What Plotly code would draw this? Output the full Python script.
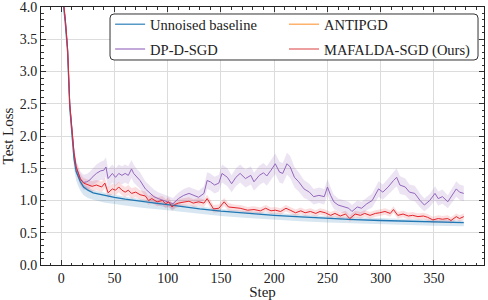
import plotly.graph_objects as go

# ---------------- data ----------------
# Unnoised baseline: (step, loss, lower, upper)
baseline = [
    (0, 4.60, 4.55, 4.65), (2, 4.05, 3.98, 4.10), (4, 3.72, 3.64, 3.76), (6, 3.30, 3.20, 3.34),
    (8, 2.45, 2.33, 2.49), (10, 2.02, 1.88, 2.06), (12, 1.65, 1.50, 1.70), (14, 1.45, 1.31, 1.50),
    (16, 1.36, 1.22, 1.40), (18, 1.29, 1.15, 1.33), (21, 1.21, 1.08, 1.25), (25, 1.16, 1.04, 1.20),
    (30, 1.12, 1.01, 1.16), (40, 1.08, 0.97, 1.12), (50, 1.05, 0.94, 1.09), (60, 1.02, 0.92, 1.06),
    (70, 0.995, 0.90, 1.03), (80, 0.975, 0.88, 1.01), (90, 0.955, 0.86, 0.99), (100, 0.935, 0.85, 0.97),
    (115, 0.90, 0.82, 0.94), (130, 0.87, 0.79, 0.91), (150, 0.835, 0.76, 0.87), (175, 0.80, 0.73, 0.835),
    (200, 0.77, 0.70, 0.805), (225, 0.745, 0.68, 0.78), (250, 0.72, 0.66, 0.755), (275, 0.705, 0.645, 0.74),
    (300, 0.69, 0.63, 0.725), (325, 0.678, 0.62, 0.712), (350, 0.667, 0.61, 0.70), (378, 0.658, 0.60, 0.69),
]

# DP-D-SGD: (step, loss, spread)
dpdsgd = [
    (0, 4.60, 0.04), (2, 4.10, 0.05), (4, 3.78, 0.06), (6, 3.35, 0.07), (8, 2.50, 0.08),
    (10, 2.08, 0.09), (12, 1.74, 0.10), (14, 1.52, 0.10), (16, 1.42, 0.11), (18, 1.34, 0.11),
    (21, 1.28, 0.12), (24, 1.29, 0.12), (27, 1.32, 0.13), (29, 1.36, 0.13), (33, 1.42, 0.14),
    (37, 1.46, 0.14), (40, 1.47, 0.15), (42, 1.52, 0.15), (44, 1.34, 0.15), (48, 1.42, 0.14),
    (51, 1.36, 0.14), (54, 1.42, 0.14), (57, 1.39, 0.14), (60, 1.42, 0.14), (63, 1.39, 0.14),
    (66, 1.49, 0.14), (68, 1.42, 0.14), (71, 1.36, 0.13), (74, 1.31, 0.13), (79, 1.18, 0.12),
    (82, 1.13, 0.12), (87, 1.06, 0.11), (91, 1.03, 0.10), (96, 1.00, 0.10), (101, 0.98, 0.09),
    (105, 0.95, 0.09), (110, 1.03, 0.09), (115, 1.08, 0.10), (120, 1.11, 0.10), (124, 1.08, 0.10),
    (129, 1.05, 0.10), (134, 1.11, 0.11), (137, 1.31, 0.13), (140, 1.29, 0.13), (144, 1.24, 0.13),
    (148, 1.27, 0.13), (151, 1.42, 0.14), (156, 1.36, 0.14), (160, 1.26, 0.13), (164, 1.36, 0.14),
    (168, 1.42, 0.14), (173, 1.34, 0.14), (178, 1.39, 0.14), (181, 1.29, 0.14), (186, 1.39, 0.15),
    (190, 1.43, 0.15), (193, 1.38, 0.15), (197, 1.47, 0.16), (201, 1.57, 0.16), (205, 1.44, 0.16),
    (208, 1.42, 0.16), (212, 1.57, 0.17), (215, 1.52, 0.17), (219, 1.36, 0.16), (223, 1.29, 0.15),
    (228, 1.18, 0.14), (233, 1.13, 0.13), (237, 1.06, 0.12), (242, 1.08, 0.12), (247, 1.06, 0.12),
    (250, 1.21, 0.12), (253, 1.08, 0.12), (256, 0.98, 0.11), (260, 0.93, 0.10), (265, 0.90, 0.10),
    (270, 0.88, 0.10), (273, 0.83, 0.10), (278, 0.90, 0.10), (282, 0.88, 0.10), (287, 0.95, 0.10),
    (292, 1.00, 0.11), (298, 1.18, 0.12), (302, 1.13, 0.12), (307, 1.21, 0.13), (312, 1.31, 0.14),
    (315, 1.36, 0.14), (318, 1.24, 0.14), (323, 1.21, 0.13), (327, 1.13, 0.12), (332, 1.11, 0.12),
    (337, 1.00, 0.11), (341, 0.93, 0.10), (346, 1.00, 0.10), (351, 1.11, 0.11), (354, 1.03, 0.11),
    (358, 1.06, 0.11), (363, 0.98, 0.10), (366, 1.06, 0.11), (371, 1.18, 0.12), (374, 1.13, 0.12),
    (378, 1.11, 0.12),
]

# MAFALDA-SGD (Ours): (step, loss, spread)
mafalda = [
    (0, 4.60, 0.03), (2, 4.10, 0.04), (4, 3.78, 0.05), (6, 3.35, 0.06), (8, 2.50, 0.07),
    (10, 2.08, 0.07), (12, 1.74, 0.08), (14, 1.52, 0.08), (16, 1.42, 0.08), (18, 1.33, 0.08),
    (21, 1.27, 0.08), (24, 1.25, 0.08), (29, 1.22, 0.08), (33, 1.24, 0.08), (38, 1.21, 0.08),
    (41, 1.27, 0.08), (44, 1.12, 0.08), (48, 1.18, 0.08), (51, 1.16, 0.08), (54, 1.21, 0.08),
    (57, 1.16, 0.08), (60, 1.13, 0.08), (63, 1.16, 0.08), (66, 1.11, 0.08), (70, 1.13, 0.08),
    (74, 1.09, 0.07), (79, 1.07, 0.07), (82, 1.00, 0.07), (85, 1.03, 0.07), (90, 0.98, 0.07),
    (95, 1.00, 0.07), (98, 0.95, 0.07), (101, 0.98, 0.07), (104, 0.90, 0.06), (107, 0.94, 0.06),
    (110, 0.96, 0.06), (115, 0.98, 0.06), (120, 0.99, 0.06), (124, 0.96, 0.06), (129, 0.98, 0.06),
    (134, 0.96, 0.06), (137, 1.03, 0.06), (140, 0.95, 0.06), (143, 0.87, 0.06), (148, 0.88, 0.06),
    (153, 0.98, 0.06), (157, 0.90, 0.06), (162, 0.89, 0.05), (168, 0.88, 0.05), (175, 0.85, 0.05),
    (181, 0.86, 0.05), (187, 0.84, 0.05), (192, 0.88, 0.05), (197, 0.84, 0.05), (201, 0.85, 0.05),
    (206, 0.83, 0.05), (211, 0.88, 0.05), (215, 0.85, 0.05), (220, 0.81, 0.05), (225, 0.84, 0.05),
    (229, 0.81, 0.05), (234, 0.83, 0.05), (239, 0.80, 0.05), (243, 0.83, 0.05), (248, 0.81, 0.05),
    (253, 0.77, 0.05), (257, 0.80, 0.05), (262, 0.76, 0.05), (267, 0.79, 0.05), (271, 0.72, 0.05),
    (276, 0.79, 0.05), (281, 0.77, 0.05), (285, 0.80, 0.05), (290, 0.77, 0.05), (295, 0.80, 0.05),
    (299, 0.81, 0.05), (304, 0.83, 0.05), (309, 0.80, 0.05), (312, 0.86, 0.05), (316, 0.77, 0.05),
    (321, 0.79, 0.05), (326, 0.76, 0.05), (330, 0.77, 0.05), (335, 0.75, 0.05), (340, 0.76, 0.05),
    (344, 0.74, 0.05), (349, 0.70, 0.05), (354, 0.72, 0.05), (358, 0.71, 0.05), (363, 0.72, 0.05),
    (366, 0.69, 0.05), (371, 0.75, 0.05), (374, 0.72, 0.05), (378, 0.75, 0.05),
]

legend_names = ["Unnoised baseline", "DP-D-SGD", "ANTIPGD", "MAFALDA-SGD (Ours)"]
x_ticks = [0, 50, 100, 150, 200, 250, 300, 350]
y_ticks = [0.0, 0.5, 1.0, 1.5, 2.0, 2.5, 3.0, 3.5, 4.0]

# ---------------- styling ----------------
FONT = "Liberation Serif"
C_BLUE = "#1f77b4"
C_PURPLE = "#9467bd"
C_RED = "#e3242b"
LEG_COLORS = ["rgba(31,119,180,0.75)", "rgba(148,103,189,0.75)", "rgba(255,127,14,0.6)", "rgba(214,39,40,0.6)"]
LEG_IDS = ["legend", "legend", "legend2", "legend2"]

fig = go.Figure()


def band(xs, lo, hi, color):
    fig.add_trace(go.Scatter(
        x=list(xs) + list(xs)[::-1], y=list(hi) + list(lo)[::-1],
        fill="toself", fillcolor=color, line=dict(width=0), mode="lines",
        hoverinfo="skip", showlegend=False))


bx = [r[0] for r in baseline]
by = [r[1] for r in baseline]
band(bx, [r[2] for r in baseline], [r[3] for r in baseline], "rgba(31,119,180,0.18)")

px_ = [r[0] for r in dpdsgd]
py_ = [r[1] for r in dpdsgd]
band(px_, [r[1] - r[2] for r in dpdsgd], [r[1] + r[2] for r in dpdsgd], "rgba(148,103,189,0.18)")

mx = [r[0] for r in mafalda]
my = [r[1] for r in mafalda]
band(mx, [r[1] - r[2] for r in mafalda], [r[1] + r[2] for r in mafalda], "rgba(227,36,43,0.15)")

fig.add_trace(go.Scatter(x=bx, y=by, mode="lines", line=dict(color=C_BLUE, width=1.3), showlegend=False))
fig.add_trace(go.Scatter(x=px_, y=py_, mode="lines", line=dict(color=C_PURPLE, width=1.0), showlegend=False))
fig.add_trace(go.Scatter(x=mx, y=my, mode="lines", line=dict(color=C_RED, width=1.0), showlegend=False))

for i, (name, col, lid) in enumerate(zip(legend_names, LEG_COLORS, LEG_IDS)):
    fig.add_trace(go.Scatter(x=[None], y=[None], mode="lines", name=name, legend=lid,
                             legendgroup=f"g{i}", line=dict(color=col, width=1.5)))

axis_common = dict(
    showline=True, linecolor="#222", linewidth=1, mirror="allticks",
    ticks="inside", ticklen=5, tickwidth=0.8, tickcolor="#333",
    showgrid=True, gridcolor="#dcdcdc", gridwidth=1, zeroline=False,
    automargin=False, ticklabeloverflow="allow",
    tickfont=dict(family=FONT, size=14, color="#222"),
)

leg_common = dict(orientation="v", yanchor="top", itemwidth=30, bgcolor="rgba(0,0,0,0)",
                  borderwidth=0, font=dict(family=FONT, size=14.5, color="#222"),
                  tracegroupgap=3)

# rounded legend frame (paper coordinates of the plot area, 443 x 258 px)
X0, X1, Y0, Y1 = 0.1558, 0.9865, 0.7946, 0.9729
RX, RY = 4 / 443, 4 / 258
frame_path = (
    f"M {X0 + RX},{Y1} L {X1 - RX},{Y1} Q {X1},{Y1} {X1},{Y1 - RY} "
    f"L {X1},{Y0 + RY} Q {X1},{Y0} {X1 - RX},{Y0} "
    f"L {X0 + RX},{Y0} Q {X0},{Y0} {X0},{Y0 + RY} "
    f"L {X0},{Y1 - RY} Q {X0},{Y1} {X0 + RX},{Y1} Z"
)

fig.update_layout(
    width=488, height=300,
    margin=dict(l=41, r=4, t=7, b=35),
    paper_bgcolor="white", plot_bgcolor="white",
    font=dict(family=FONT, size=14, color="#222"),
    xaxis=dict(range=[-19, 397], tickvals=x_ticks,
               title=dict(text="Step", font=dict(family=FONT, size=15), standoff=2),
               minor=dict(dtick=10, tick0=0, ticks="inside", ticklen=2.5, tickcolor="#333", showgrid=False),
               **axis_common),
    yaxis=dict(range=[0, 4.001], tickvals=y_ticks, tickformat=".1f",
               title=dict(text="Test Loss", font=dict(family=FONT, size=15), standoff=4),
               minor=dict(dtick=0.1, tick0=0, ticks="inside", ticklen=2.5, tickcolor="#333", showgrid=False),
               **axis_common),
    legend=dict(x=0.156, y=0.995, xanchor="left", **leg_common),
    legend2=dict(x=0.5485, y=0.995, xanchor="left", **leg_common),
    shapes=[dict(type="path", xref="paper", yref="paper", path=frame_path,
                 line=dict(color="#333", width=1), fillcolor="white", layer="above")],
)

fig.write_html(
    "out.html",
    config={"displayModeBar": False},
    post_script="document.body.style.margin='0';document.body.style.overflow='hidden';",
)
